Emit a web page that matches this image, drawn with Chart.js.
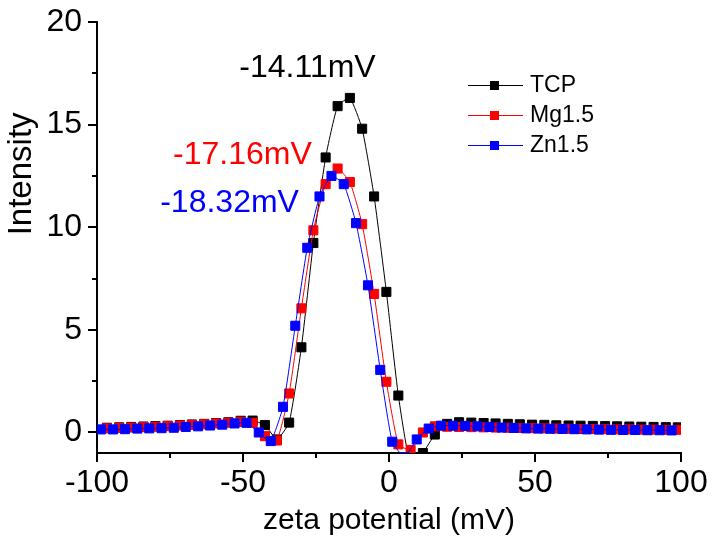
<!DOCTYPE html>
<html><head><meta charset="utf-8">
<script src="https://cdn.jsdelivr.net/npm/chart.js@4/dist/chart.umd.min.js"></script>
<style>html,body{margin:0;padding:0;background:#fff;}</style>
</head><body>
<canvas id="c" width="713" height="554"></canvas>
<script>
// ---------- data ----------
const seriesNames = ['TCP', 'Mg1.5', 'Zn1.5'];
const seriesColors = ['#000000', '#ff0000', '#0000ff'];

// zeta potential grid (mV) shared by TCP and Mg1.5
const potentialA = [-96.6,-92.4,-88.3,-84.1,-80.0,-75.8,-71.6,-67.5,-63.3,-59.2,-55.0,-50.8,-46.7,-42.5,-38.4,-34.2,-30.0,-25.9,-21.7,-17.6,-13.4,-9.2,-5.1,-0.9,3.2,7.4,11.6,15.7,19.9,24.0,28.2,32.4,36.5,40.7,44.8,49.0,53.2,57.3,61.5,65.6,69.8,74.0,78.1,82.3,86.4,90.6,94.8,98.9];
// zeta potential grid (mV) for Zn1.5
const potentialZn = [-98.7,-94.5,-90.4,-86.2,-82.1,-77.9,-73.7,-69.6,-65.4,-61.3,-57.1,-52.9,-48.8,-44.6,-40.5,-36.3,-32.1,-28.0,-23.8,-19.7,-15.5,-11.3,-7.2,-3.0,1.1,5.3,9.5,13.6,17.8,21.9,26.1,30.3,34.4,38.6,42.7,46.9,51.1,55.2,59.4,63.5,67.7,71.9,76.0,80.2,84.3,88.5,92.7,96.8];

const intensityTCP = [0.23,0.25,0.27,0.29,0.31,0.33,0.36,0.39,0.42,0.46,0.50,0.57,0.58,0.36,-0.34,0.48,4.15,9.23,13.4,15.9,16.3,14.8,11.5,6.85,1.8,-1.6,-1.0,-0.1,0.42,0.50,0.48,0.46,0.44,0.42,0.40,0.38,0.37,0.35,0.34,0.33,0.32,0.31,0.30,0.29,0.28,0.27,0.26,0.25];
const intensityMg = [0.20,0.22,0.24,0.26,0.28,0.31,0.34,0.37,0.40,0.44,0.48,0.52,0.47,-0.18,-0.39,1.9,6.05,9.85,12.1,12.86,12.2,10.15,6.75,2.47,-0.58,-0.85,0.0,0.30,0.28,0.27,0.26,0.25,0.24,0.23,0.22,0.21,0.20,0.19,0.18,0.17,0.17,0.16,0.15,0.15,0.14,0.14,0.13,0.13];
const intensityZn = [0.15,0.15,0.16,0.19,0.20,0.21,0.23,0.27,0.30,0.34,0.38,0.44,0.47,0.0,-0.42,1.25,5.2,9.0,11.5,12.5,12.1,10.2,7.17,3.05,-0.45,-1.2,-0.34,0.19,0.33,0.33,0.32,0.30,0.27,0.24,0.22,0.20,0.19,0.18,0.17,0.16,0.15,0.14,0.13,0.12,0.12,0.11,0.11,0.10];

const xTickValues = [-100,-75,-50,-25,0,25,50,75,100];
const xTickLabels = ['-100','','-50','','0','','50','','100'];
const yTickValues = [0,2.5,5,7.5,10,12.5,15,17.5,20];
const yTickLabels = ['0','','5','','10','','15','','20'];

const peakLabels = ['-14.11mV', '-17.16mV', '-18.32mV'];
const peakLabelX = [-27.9, -50.2, -54.6];
const peakLabelY = [17.76, 13.5, 11.17];

// ---------- drawing ----------
const FONT = "'Liberation Sans', Arial, Helvetica, sans-serif";

function toPoints(xs, ys) { return xs.map((x, i) => ({x: x, y: ys[i]})); }

function makeSet(i, xs, ys, order) {
  return {
    label: seriesNames[i],
    data: toPoints(xs, ys),
    borderColor: seriesColors[i],
    backgroundColor: seriesColors[i],
    borderWidth: 1,
    pointStyle: 'rect',
    pointRadius: 6.4,
    pointBorderWidth: 1,
    pointBorderColor: seriesColors[i],
    pointBackgroundColor: seriesColors[i],
    tension: 0.15,
    clip: 0,
    order: order
  };
}

const tickMarks = {
  id: 'tickMarks',
  afterDraw(chart) {
    const {ctx, chartArea: a, scales: {x, y}} = chart;
    ctx.save();
    ctx.strokeStyle = '#000';
    ctx.lineWidth = 2;
    xTickValues.forEach((v, i) => {
      const p = Math.round(x.getPixelForValue(v));
      const len = xTickLabels[i] ? 9 : 5;
      ctx.beginPath(); ctx.moveTo(p, a.bottom); ctx.lineTo(p, a.bottom + len); ctx.stroke();
    });
    yTickValues.forEach((v, i) => {
      const p = Math.round(y.getPixelForValue(v));
      const len = yTickLabels[i] ? 9 : 5;
      ctx.beginPath(); ctx.moveTo(a.left, p); ctx.lineTo(a.left - len, p); ctx.stroke();
    });
    ctx.restore();
  }
};

const extraText = {
  id: 'extraText',
  afterDraw(chart) {
    const {ctx, scales: {x, y}} = chart;
    ctx.save();
    // peak annotations
    ctx.font = '32px ' + FONT;
    ctx.textAlign = 'center';
    ctx.textBaseline = 'middle';
    peakLabels.forEach((t, i) => {
      ctx.fillStyle = seriesColors[i];
      ctx.fillText(t, x.getPixelForValue(peakLabelX[i]), y.getPixelForValue(peakLabelY[i]));
    });
    // y axis title
    ctx.save();
    ctx.translate(22, y.getPixelForValue(12.6));
    ctx.rotate(-Math.PI / 2);
    ctx.fillStyle = '#000';
    ctx.font = '33px ' + FONT;
    ctx.fillText('Intensity', 0, 0);
    ctx.restore();
    // legend
    ctx.font = '23px ' + FONT;
    ctx.textAlign = 'left';
    chart.data.datasets.forEach((ds, i) => {
      const cy = 85 + i * 30;
      ctx.strokeStyle = ds.borderColor;
      ctx.lineWidth = 1;
      ctx.beginPath(); ctx.moveTo(468, cy + 0.5); ctx.lineTo(523, cy + 0.5); ctx.stroke();
      ctx.fillStyle = ds.borderColor;
      ctx.fillRect(490, cy - 4, 9, 9);
      ctx.fillStyle = '#000';
      ctx.fillText(ds.label, 530, cy + 1);
    });
    ctx.restore();
  }
};

new Chart(document.getElementById('c'), {
  type: 'line',
  data: {
    datasets: [
      makeSet(0, potentialA, intensityTCP, 2),
      makeSet(1, potentialA, intensityMg, 1),
      makeSet(2, potentialZn, intensityZn, 0)
    ]
  },
  options: {
    responsive: false,
    animation: false,
    devicePixelRatio: 1,
    layout: {padding: {top: 22, right: 32, left: 0, bottom: 0}},
    plugins: {legend: {display: false}, tooltip: {enabled: false}},
    scales: {
      x: {
        type: 'linear', min: -100, max: 100,
        afterBuildTicks: s => { s.ticks = xTickValues.map(v => ({value: v})); },
        afterFit: s => { s.height = 101; s.paddingLeft = 0; s.paddingRight = 0; },
        ticks: {
          autoSkip: false, maxRotation: 0, padding: 11, color: '#000',
          font: {family: FONT, size: 32},
          callback: (v) => xTickLabels[xTickValues.indexOf(v)]
        },
        grid: {display: false, drawTicks: false},
        border: {display: true, color: '#000', width: 2},
        title: {display: true, text: 'zeta potential (mV)', color: '#000',
                font: {family: FONT, size: 30}, padding: {top: 0, bottom: 15}}
      },
      y: {
        type: 'linear', min: -1, max: 20,
        afterBuildTicks: s => { s.ticks = yTickValues.map(v => ({value: v})); },
        afterFit: s => { s.width = 97; s.paddingTop = 0; s.paddingBottom = 0; },
        ticks: {
          autoSkip: false, padding: 15, color: '#000',
          font: {family: FONT, size: 32},
          callback: (v) => yTickLabels[yTickValues.indexOf(v)]
        },
        grid: {display: false, drawTicks: false},
        border: {display: true, color: '#000', width: 2}
      }
    }
  },
  plugins: [tickMarks, extraText]
});
</script>
</body></html>
